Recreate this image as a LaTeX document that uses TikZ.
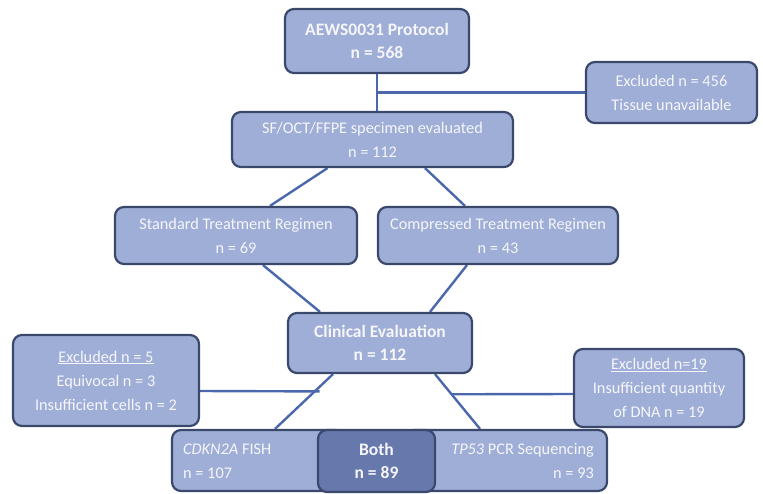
\documentclass[tikz,border=0pt]{standalone}
\usepackage{fontspec}
\setmainfont{Carlito}
\usetikzlibrary{backgrounds}
\begin{document}
\begin{tikzpicture}[x=1pt,y=-1pt,
  every node/.style={font=\fontsize{16.3}{24}\selectfont},
  box/.style={draw=boxline, line width=2.2pt, fill=boxfill, rounded corners=9pt,
    text=boxtext, align=center, inner sep=0pt},
  bbox/.style={box, font=\fontsize{17.5}{23}\selectfont\bfseries},
  dbox/.style={bbox, fill=bothfill},
  lbl/.style={text=boxtext, inner sep=0pt},
  conn/.style={draw=connline, line width=2.4pt}]
\definecolor{boxfill}{RGB}{158,174,214}
\definecolor{bothfill}{RGB}{102,120,172}
\definecolor{boxline}{RGB}{58,72,108}
\definecolor{connline}{RGB}{76,104,172}
\definecolor{boxtext}{RGB}{246,246,250}
\useasboundingbox (0,0) rectangle (763,493);

% boxes
\node[bbox, minimum width=184pt, minimum height=64pt] (top) at (377,41)
  {AEWS0031 Protocol\\n = 568};
\node[box, minimum width=171pt, minimum height=61pt] (ex456) at (671.5,92.5)
  {Excluded n = 456\\Tissue unavailable};
\node[box, minimum width=281pt, minimum height=55pt] (sf) at (372.5,139.5)
  {SF/OCT/FFPE specimen evaluated\\n = 112};
\node[box, minimum width=242pt, minimum height=57pt] (std) at (236,235.5)
  {Standard Treatment Regimen\\n = 69};
\node[box, minimum width=240pt, minimum height=57pt] (cmp) at (498,235.5)
  {Compressed Treatment Regimen\\n = 43};
\node[bbox, minimum width=184pt, minimum height=60pt] (clin) at (380,343)
  {Clinical Evaluation\\n = 112};
\node[box, minimum width=186pt, minimum height=91pt] (ex5) at (106,380.5)
  {\underline{Excluded n = 5}\\Equivocal n = 3\\Insufficient cells n = 2};
\node[box, minimum width=170pt, minimum height=78pt] (ex19) at (659,388)
  {\underline{Excluded n=19}\\Insufficient quantity\\of DNA n = 19};
\node[box, minimum width=173pt, minimum height=61pt] (cdk) at (258.5,460.5) {};
\node[box, minimum width=202pt, minimum height=61pt] (tp) at (506,460.5) {};
\node[dbox, minimum width=117pt, minimum height=62pt] (both) at (376.5,461)
  {Both\\n = 89};
\node[lbl, align=left, anchor=west] (cdkt) at (183,461)
  {\textit{CDKN2A} FISH\\n = 107};
\node[lbl, align=right, anchor=east] (tpt) at (594,461)
  {\textit{TP53} PCR Sequencing\\n = 93};

% connectors
\path ([xshift=-47pt]clin.south) -- ([xshift=16.5pt]cdk.north) coordinate[pos=0.316] (j1);
\path ([xshift=55pt]clin.south) -- ([xshift=-26pt]tp.north) coordinate[pos=0.368] (j2);
\begin{scope}[on background layer]
\draw[conn] (top.south) -- (top.south |- sf.north);
\draw[conn] (ex456.west) -- (ex456.west -| top.south);
\draw[conn] ([xshift=-45pt]sf.south) -- ([xshift=34pt]std.north);
\draw[conn] ([xshift=52.5pt]sf.south) -- ([xshift=-33pt]cmp.north);
\draw[conn] ([xshift=27pt]std.south) -- ([xshift=-60pt]clin.north);
\draw[conn] ([xshift=-31pt]cmp.south) -- ([xshift=50pt]clin.north);
\draw[conn] ([xshift=-47pt]clin.south) -- ([xshift=16.5pt]cdk.north);
\draw[conn] ([xshift=55pt]clin.south) -- ([xshift=-26pt]tp.north);
\draw[conn] ([yshift=-10.5pt]ex5.east) -- ([xshift=5pt]j1);
\draw[conn] ([yshift=-6pt]ex19.west) -- (j2);
\end{scope}
\end{tikzpicture}
\end{document}
